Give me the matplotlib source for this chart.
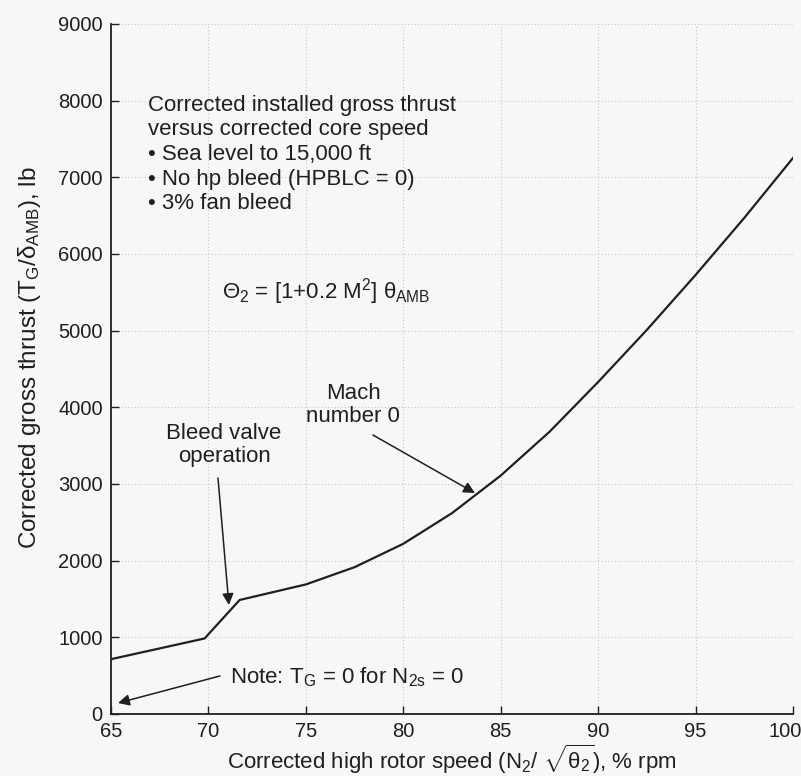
import matplotlib
matplotlib.use("Agg")
import matplotlib.pyplot as plt
import matplotlib.transforms as mtransforms

plt.rcParams["font.family"] = ["Liberation Sans", "DejaVu Sans"]
plt.rcParams["mathtext.fontset"] = "custom"
plt.rcParams["mathtext.rm"] = "Liberation Sans"
plt.rcParams["mathtext.it"] = "Liberation Sans"
plt.rcParams["mathtext.bf"] = "Liberation Sans:bold"

# Corrected core speed (% rpm) and corrected gross thrust (lb)
speed = [65.0, 69.8, 71.6, 75.0, 77.5, 80.0, 82.5, 85.0, 87.5, 90.0, 92.5, 95.0, 97.5, 100.0]
thrust = [715, 985, 1487, 1690, 1915, 2220, 2620, 3110, 3680, 4330, 5010, 5726, 6471, 7252]

x_ticks = [65, 70, 75, 80, 85, 90, 95, 100]
y_ticks = [0, 1000, 2000, 3000, 4000, 5000, 6000, 7000, 8000, 9000]

bg = "#f7f7f7"
ink = "#1f1f1f"
fs = 16

fig = plt.figure(figsize=(8.01, 7.76), dpi=100, facecolor=bg)
ax = fig.add_axes([0.1386, 0.0799, 0.8514, 0.8892], facecolor=bg)

ax.plot(speed, thrust, color=ink, lw=1.6, solid_joinstyle="round")

ax.set_xlim(65, 100)
ax.set_ylim(0, 9000)
ax.set_xticks(x_ticks)
ax.set_yticks(y_ticks)
ax.tick_params(direction="in", length=6, width=1, labelsize=14.5, colors=ink, pad=6)
ax.grid(True, color="#c8c8c8", lw=0.8, ls=(0, (1, 2)))
for s in ("top", "right"):
    ax.spines[s].set_visible(False)
for s in ("left", "bottom"):
    ax.spines[s].set_color(ink)
    ax.spines[s].set_linewidth(1.3)

# keep the last x tick label inside the figure edge
fig.canvas.draw()
last = ax.get_xticklabels()[-1]
last.set_transform(last.get_transform() +
                   mtransforms.ScaledTranslation(-8 / 100, 0, fig.dpi_scale_trans))

ax.set_xlabel(r"Corrected high rotor speed (N$_2$/ $\sqrt{\theta_2}$), % rpm",
              fontsize=fs, color=ink, labelpad=1)
ax.set_ylabel(r"Corrected gross thrust (T$_{\rm G}$/$\delta_{\rm AMB}$), lb",
              fontsize=17.5, color=ink)
ax.yaxis.set_label_coords(-0.100, 0.517)

ax.text(66.9, 8074,
        "Corrected installed gross thrust\nversus corrected core speed\n"
        "\u2022 Sea level to 15,000 ft\n\u2022 No hp bleed (HPBLC = 0)\n\u2022 3% fan bleed",
        fontsize=fs, color=ink, va="top", ha="left", linespacing=1.22)

ax.text(70.7, 5504, r"$\Theta_2$ = [1+0.2 M$^2$] $\theta_{\rm AMB}$",
        fontsize=fs, color=ink, va="center", ha="left")

arrow = dict(arrowstyle="-|>", mutation_scale=17, lw=1.1, color=ink, shrinkA=0, shrinkB=0)

ax.annotate("", xy=(71.05, 1422), xytext=(70.49, 3078), arrowprops=arrow)
ax.text(70.8, 3508, "Bleed valve\noperation", fontsize=fs, color=ink,
        ha="center", va="center", linespacing=1.12)

ax.annotate("", xy=(83.68, 2882), xytext=(78.44, 3639), arrowprops=arrow)
ax.text(77.42, 4030, "Mach\nnumber 0", fontsize=fs, color=ink,
        ha="center", va="center", linespacing=1.12)

ax.annotate("", xy=(65.36, 143), xytext=(70.59, 496), arrowprops=arrow)
ax.text(71.1, 483, r"Note: T$_{\rm G}$ = 0 for N$_{\rm 2s}$ = 0", fontsize=fs,
        color=ink, ha="left", va="center")

fig.savefig("out.png", dpi=100, facecolor=bg)
